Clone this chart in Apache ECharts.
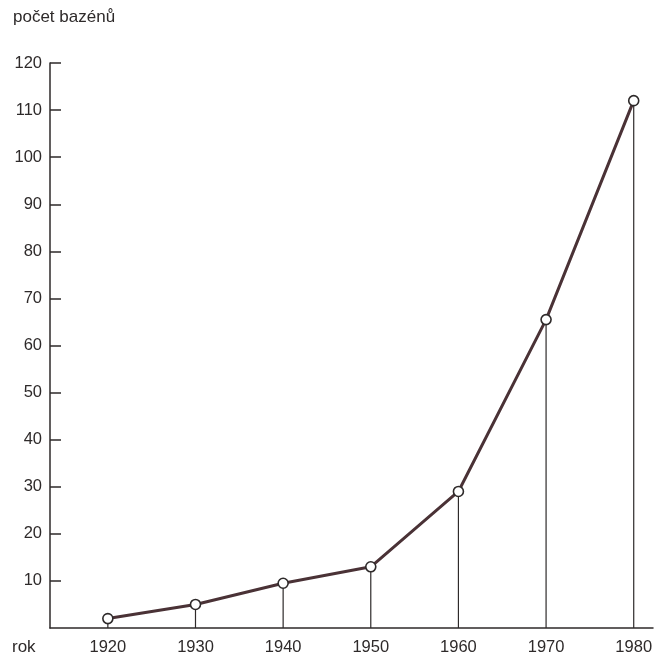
<!DOCTYPE html>
<html>
<head>
<meta charset="utf-8">
<script src="https://cdn.jsdelivr.net/npm/echarts@6/dist/echarts.min.js"></script>
<style>
  html, body { margin: 0; padding: 0; background: #fff; }
  #main { width: 656px; height: 665px; }
</style>
</head>
<body>
<div id="main"></div>
<script>
// data
var years = [1920, 1930, 1940, 1950, 1960, 1970, 1980];
var pools = [2, 5, 9.5, 13, 29, 65.5, 112];
var yTicks = [10, 20, 30, 40, 50, 60, 70, 80, 90, 100, 110, 120];

var ink = '#2e2a2a';
var lineCol = '#4a3236';
var font = 'Liberation Sans, Arial, sans-serif';

var myChart = echarts.init(document.getElementById('main'));

var points = years.map(function (y, i) { return [y, pools[i]]; });

var option = {
  backgroundColor: '#fff',
  animation: false,
  textStyle: { fontFamily: font },
  grid: { left: 50, right: 3, top: 63, bottom: 37, containLabel: false },
  xAxis: {
    type: 'value',
    min: 1913.4,
    max: 1982.2,
    splitLine: { show: false },
    axisLine: { lineStyle: { color: ink, width: 1.5 } },
    axisTick: { show: false },
    axisLabel: {
      customValues: years,
      color: ink,
      fontSize: 16.5,
      margin: 11,
      formatter: function (v) { return String(v); }
    }
  },
  yAxis: {
    type: 'value',
    min: 0,
    max: 120,
    interval: 10,
    splitLine: { show: false },
    axisLine: { show: true, lineStyle: { color: ink, width: 1.5 } },
    axisTick: {
      show: true, inside: true, length: 11,
      customValues: yTicks,
      lineStyle: { color: ink, width: 1.5 }
    },
    axisLabel: {
      customValues: yTicks,
      color: ink,
      fontSize: 16.5,
      margin: 8
    }
  },
  graphic: [
    { type: 'text', left: 13, top: 9, style: { text: 'počet bazénů', fill: ink, font: '17px ' + font } },
    { type: 'text', left: 12, top: 639, style: { text: 'rok', fill: ink, font: '17px ' + font } }
  ],
  series: [
    {
      // thin drop lines from each point down to the axis
      type: 'bar',
      data: points,
      barWidth: 1.2,
      itemStyle: { color: ink },
      silent: true,
      z: 1
    },
    {
      type: 'line',
      data: points,
      symbol: 'circle',
      symbolSize: 10,
      lineStyle: { color: lineCol, width: 3 },
      itemStyle: { color: '#fff', borderColor: ink, borderWidth: 1.6 },
      z: 3
    }
  ]
};

myChart.setOption(option);
</script>
</body>
</html>
